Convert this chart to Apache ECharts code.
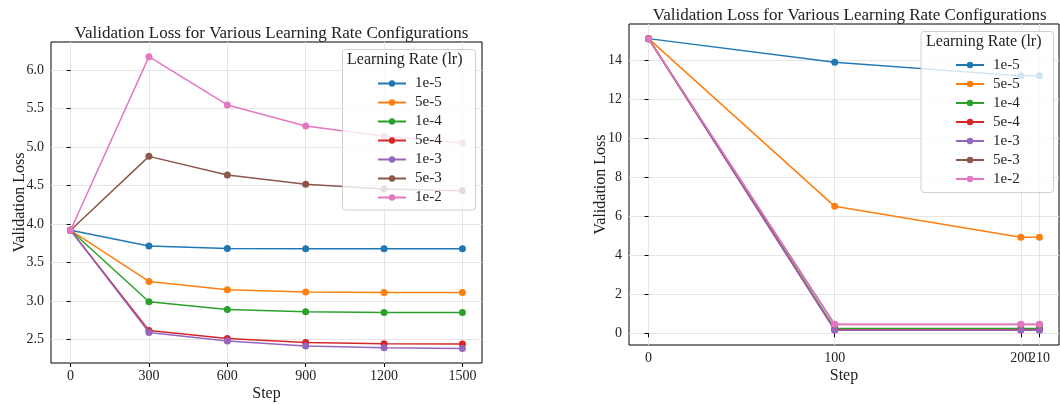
<!DOCTYPE html>
<html>
<head>
<meta charset="utf-8">
<script src="https://cdn.jsdelivr.net/npm/echarts@6/dist/echarts.min.js"></script>
<style>
  html, body { margin: 0; padding: 0; background: #fff; }
  #chart { width: 1060px; height: 404px; }
</style>
</head>
<body>
<div id="chart"></div>
<script>
// Learning-rate labels shared by both panels
const lrNames = ['1e-5', '5e-5', '1e-4', '5e-4', '1e-3', '5e-3', '1e-2'];
const colors = ['#1f77b4', '#ff7f0e', '#2ca02c', '#d62728', '#9467bd', '#8c564b', '#e377c2'];

// Left panel: long run, evaluated every 300 steps
const stepsA = [0, 300, 600, 900, 1200, 1500];
const lossA_1e5 = [3.92, 3.715, 3.685, 3.681, 3.681, 3.680];
const lossA_5e5 = [3.92, 3.257, 3.148, 3.118, 3.114, 3.114];
const lossA_1e4 = [3.92, 2.993, 2.893, 2.863, 2.854, 2.854];
const lossA_5e4 = [3.92, 2.621, 2.517, 2.465, 2.447, 2.443];
const lossA_1e3 = [3.92, 2.595, 2.483, 2.418, 2.396, 2.387];
const lossA_5e3 = [3.92, 4.879, 4.637, 4.516, 4.455, 4.434];
const lossA_1e2 = [3.92, 6.173, 5.546, 5.273, 5.139, 5.052];
const ticksAx = [0, 300, 600, 900, 1200, 1500];
const ticksAy = [2.5, 3.0, 3.5, 4.0, 4.5, 5.0, 5.5, 6.0];

// Right panel: short run
const stepsB = [0, 100, 200, 210];
const lossB_1e5 = [15.11, 13.90, 13.20, 13.20];
const lossB_5e5 = [15.11, 6.51, 4.92, 4.92];
const lossB_1e4 = [15.11, 0.24, 0.24, 0.24];
const lossB_5e4 = [15.11, 0.18, 0.18, 0.18];
const lossB_1e3 = [15.11, 0.16, 0.16, 0.16];
const lossB_5e3 = [15.11, 0.45, 0.45, 0.45];
const lossB_1e2 = [15.11, 0.46, 0.46, 0.46];
const ticksBx = [0, 100, 200, 210];
// 200 and 210 sit close together; 200 gets its own label layer so both stay visible
const labelsBx = [0, 100, 210];
const labelsBxExtra = [200];
const ticksBy = [0, 2, 4, 6, 8, 10, 12, 14];

const lossA = [lossA_1e5, lossA_5e5, lossA_1e4, lossA_5e4, lossA_1e3, lossA_5e3, lossA_1e2];
const lossB = [lossB_1e5, lossB_5e5, lossB_1e4, lossB_5e4, lossB_1e3, lossB_5e3, lossB_1e2];

const FONT = '"Liberation Serif", "DejaVu Serif", serif';
const TXT = '#222';
const TICK_FS = 14;

function fmtPlain(v) { return String(v); }
function fmt1(v) { return v.toFixed(1); }

function xAxisCfg(gridIndex, min, max, ticks, labels, nameGap) {
  return {
    type: 'value', gridIndex, min, max,
    name: 'Step', nameLocation: 'middle', nameGap, nameMoveOverlap: false,
    nameTextStyle: { fontFamily: FONT, fontSize: 16, color: TXT },
    axisLine: { show: false },
    axisTick: { show: true, inside: false, length: 4, customValues: ticks, lineStyle: { color: '#000' } },
    axisLabel: { customValues: labels, interval: 0, hideOverlap: false,
      margin: 6, fontFamily: FONT, fontSize: TICK_FS, color: TXT, formatter: fmtPlain },
    splitLine: { show: true, lineStyle: { color: '#e6e6e6', width: 1 } }
  };
}

function yAxisCfg(gridIndex, min, max, ticks, nameGap, formatter) {
  return {
    type: 'value', gridIndex, min, max,
    name: 'Validation Loss', nameLocation: 'middle', nameGap, nameMoveOverlap: false,
    nameTextStyle: { fontFamily: FONT, fontSize: 16, color: TXT },
    axisLine: { show: false },
    axisTick: { show: true, inside: false, length: 4, customValues: ticks, lineStyle: { color: '#000' } },
    axisLabel: { customValues: ticks, interval: 0, hideOverlap: false,
      margin: 7, fontFamily: FONT, fontSize: TICK_FS, color: TXT, formatter },
    splitLine: { show: true, lineStyle: { color: '#e6e6e6', width: 1 } }
  };
}

function makeSeries(steps, losses, axisIndex) {
  return losses.map((vals, i) => ({
    name: lrNames[i],
    type: 'line',
    xAxisIndex: axisIndex,
    yAxisIndex: axisIndex,
    data: steps.map((s, k) => [s, vals[k]]),
    symbol: 'circle',
    symbolSize: 7,
    showSymbol: true,
    itemStyle: { color: colors[i] },
    lineStyle: { color: colors[i], width: 1.5 },
    emphasis: { disabled: true },
    animation: false,
    z: 2 + i * 0.01
  }));
}

function legendCfg(left, top) {
  return {
    orient: 'vertical',
    left, top,
    padding: 0,
    data: lrNames,
    itemWidth: 28,
    itemHeight: 8,
    itemGap: 4,
    selectedMode: false,
    textStyle: { fontFamily: FONT, fontSize: 15, color: TXT, padding: [0, 0, 0, 4] },
    z: 20
  };
}

function legendBox(x, y, w, h) {
  return {
    type: 'rect',
    shape: { x, y, width: w, height: h, r: 3 },
    style: { fill: 'rgba(255,255,255,0.8)', stroke: '#d0d0d0', lineWidth: 1 },
    z: 15
  };
}

const chart = echarts.init(document.getElementById('chart'), null, { renderer: 'canvas' });

const extraLabelAxis = {
  type: 'value', gridIndex: 1, min: -10.5, max: 220.5, position: 'bottom',
  axisLine: { show: false }, axisTick: { show: false }, splitLine: { show: false },
  axisLabel: { customValues: labelsBxExtra, interval: 0, margin: 6,
    fontFamily: FONT, fontSize: TICK_FS, color: TXT, formatter: fmtPlain }
};

chart.setOption({
  animation: false,
  backgroundColor: '#fff',
  title: [
    { text: 'Validation Loss for Various Learning Rate Configurations', left: 266.5, top: 20, textAlign: 'center',
      textStyle: { fontFamily: FONT, fontSize: 17, fontWeight: 'normal', color: TXT } },
    { text: 'Validation Loss for Various Learning Rate Configurations', left: 844.7, top: 2, textAlign: 'center',
      textStyle: { fontFamily: FONT, fontSize: 17, fontWeight: 'normal', color: TXT } },
    { text: 'Learning Rate (lr)', left: 347, top: 52, padding: 0, z: 20,
      textStyle: { fontFamily: FONT, fontSize: 16, fontWeight: 'normal', color: TXT } },
    { text: 'Learning Rate (lr)', left: 926, top: 34, padding: 0, z: 20,
      textStyle: { fontFamily: FONT, fontSize: 16, fontWeight: 'normal', color: TXT } }
  ],
  grid: [
    { left: 51, top: 42, width: 431, height: 321, outerBoundsMode: 'none', containLabel: false,
      show: true, borderColor: '#000', borderWidth: 1, backgroundColor: 'transparent' },
    { left: 629, top: 24, width: 430, height: 321, outerBoundsMode: 'none', containLabel: false,
      show: true, borderColor: '#000', borderWidth: 1, backgroundColor: 'transparent' }
  ],
  xAxis: [
    xAxisCfg(0, -75, 1575, ticksAx, ticksAx, 22.5),
    xAxisCfg(1, -10.5, 220.5, ticksBx, labelsBx, 23),
    extraLabelAxis
  ],
  yAxis: [
    yAxisCfg(0, 2.198, 6.363, ticksAy, 23, fmt1),
    yAxisCfg(1, -0.6, 15.86, ticksBy, 20, fmtPlain)
  ],
  legend: [legendCfg(377, 76), legendCfg(955, 57.5)],
  graphic: [legendBox(342.5, 49.5, 133, 160.5), legendBox(921, 31.5, 132.5, 161)],
  series: [...makeSeries(stepsA, lossA, 0), ...makeSeries(stepsB, lossB, 1)]
});
</script>
</body>
</html>
